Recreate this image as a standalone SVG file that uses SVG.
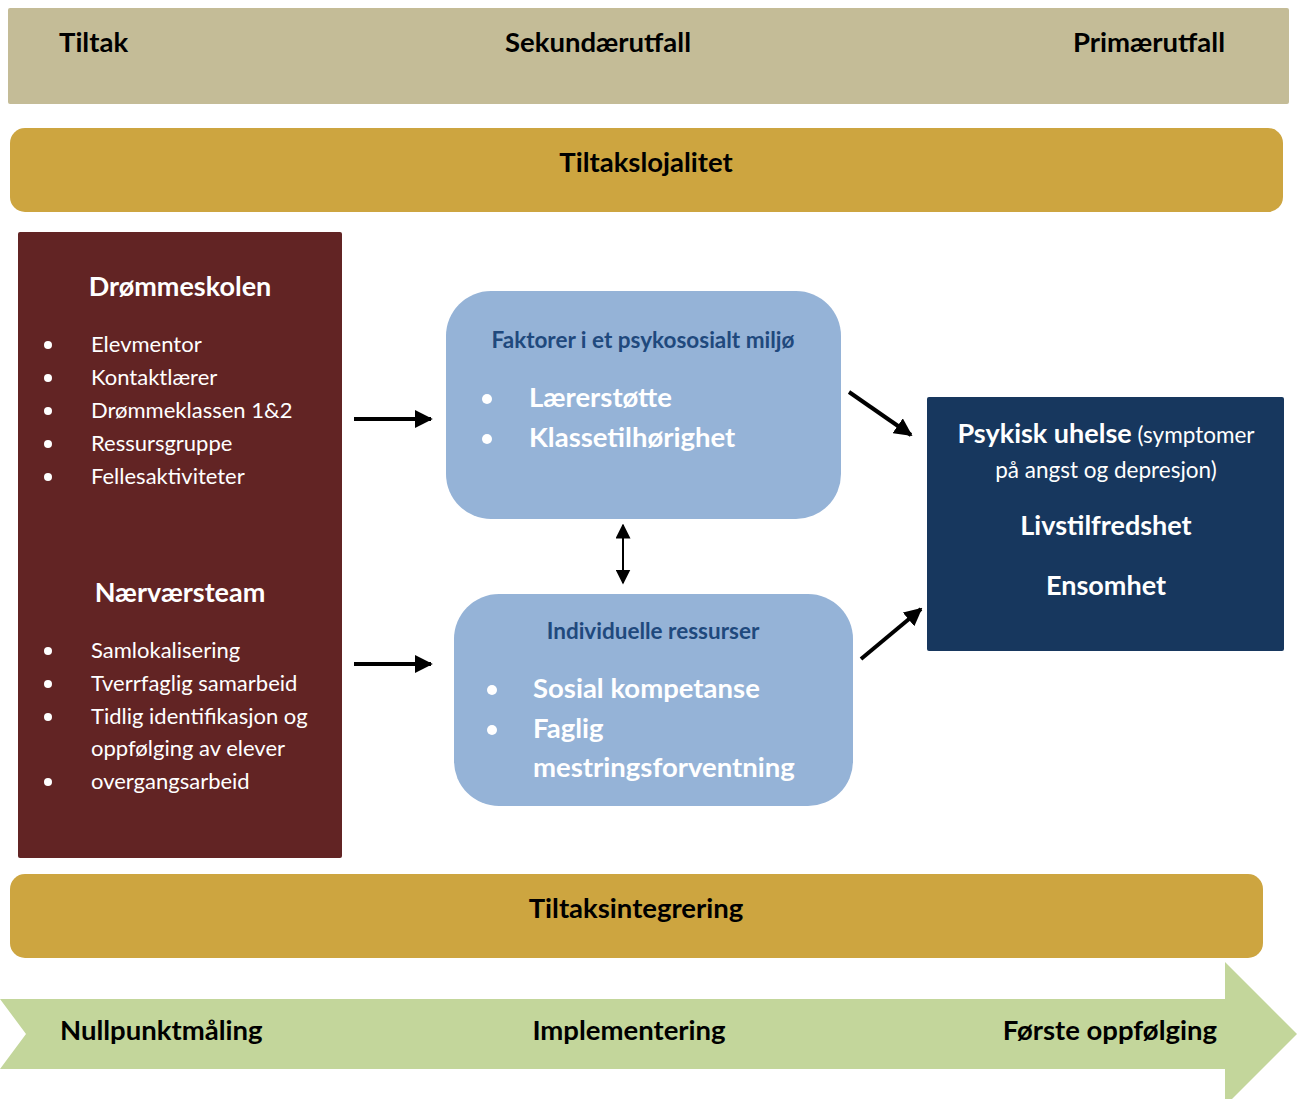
<svg xmlns="http://www.w3.org/2000/svg" width="1302" height="1099" viewBox="0 0 1302 1099">
<defs>
<marker id="ah" viewBox="0 0 10 10" refX="9" refY="5" markerWidth="4.5" markerHeight="4.5" orient="auto-start-reverse" markerUnits="strokeWidth">
<path d="M0,0 L10,5 L0,10 z" fill="#000"/>
</marker>
<marker id="ah2" viewBox="0 0 10 10" refX="9" refY="5" markerWidth="7.5" markerHeight="7.5" orient="auto-start-reverse" markerUnits="strokeWidth">
<path d="M0,0 L10,5 L0,10 z" fill="#000"/>
</marker>
<style>
text{font-family:Lato,"Open Sans","Liberation Sans",sans-serif}
.hd{font-weight:bold;font-size:27.5px;fill:#000}
.wt{font-weight:bold;font-size:27px;fill:#fff}
.li{font-size:22px;fill:#fff}
.bt{font-weight:bold;font-size:22.5px;fill:#1F497D}
.bl{font-weight:bold;font-size:27.5px;fill:#fff}
.dot{fill:#fff}
.gold{fill:#CDA540}
.conn{stroke:#000;stroke-width:4;fill:none}
</style>
</defs>

<g id="header">
<rect x="8" y="8" width="1281" height="96" rx="2" fill="#C4BC97"/>
<text class="hd" x="59" y="52">Tiltak</text>
<text class="hd" x="598" y="52" text-anchor="middle">Sekundærutfall</text>
<text class="hd" x="1225" y="52" text-anchor="end">Primærutfall</text>
</g>

<g id="tiltakslojalitet">
<rect class="gold" x="10" y="128" width="1273" height="84" rx="15"/>
<text class="hd" x="646" y="172" text-anchor="middle">Tiltakslojalitet</text>
</g>

<g id="tiltak">
<rect x="18" y="232" width="324" height="626" rx="2" fill="#622424"/>
<text class="wt" x="180" y="296" text-anchor="middle">Drømmeskolen</text>
<g class="dot">
<circle cx="48" cy="345" r="4"/><circle cx="48" cy="378" r="4"/><circle cx="48" cy="411" r="4"/><circle cx="48" cy="444" r="4"/><circle cx="48" cy="477" r="4"/>
</g>
<text class="li" x="91" y="352">Elevmentor</text>
<text class="li" x="91" y="385">Kontaktlærer</text>
<text class="li" x="91" y="418">Drømmeklassen 1&amp;2</text>
<text class="li" x="91" y="451">Ressursgruppe</text>
<text class="li" x="91" y="484">Fellesaktiviteter</text>
<text class="wt" x="180" y="602" text-anchor="middle">Nærværsteam</text>
<g class="dot">
<circle cx="48" cy="651" r="4"/><circle cx="48" cy="684" r="4"/><circle cx="48" cy="717" r="4"/><circle cx="48" cy="782" r="4"/>
</g>
<text class="li" x="91" y="658">Samlokalisering</text>
<text class="li" x="91" y="691">Tverrfaglig samarbeid</text>
<text class="li" x="91" y="724">Tidlig identifikasjon og</text>
<text class="li" x="91" y="756">oppfølging av elever</text>
<text class="li" x="91" y="789">overgangsarbeid</text>
</g>

<g id="psykososialt">
<rect x="446" y="291" width="395" height="228" rx="45" fill="#95B3D7"/>
<text class="bt" x="643" y="348" text-anchor="middle">Faktorer i et psykososialt miljø</text>
<g class="dot"><circle cx="487" cy="399" r="5"/><circle cx="487" cy="439" r="5"/></g>
<text class="bl" x="529" y="407">Lærerstøtte</text>
<text class="bl" x="529" y="447">Klassetilhørighet</text>
</g>

<g id="individuelle">
<rect x="453" y="594" width="402" height="215" rx="45" fill="#fff" opacity="0.9"/>
<rect x="454" y="594" width="399" height="212" rx="45" fill="#95B3D7"/>
<text class="bt" x="653" y="639" text-anchor="middle">Individuelle ressurser</text>
<g class="dot"><circle cx="492" cy="690" r="5"/><circle cx="492" cy="730" r="5"/></g>
<text class="bl" x="533" y="698">Sosial kompetanse</text>
<text class="bl" x="533" y="738">Faglig</text>
<text class="bl" x="533" y="777">mestringsforventning</text>
</g>

<g id="utfall">
<rect x="927" y="397" width="357" height="254" rx="2" fill="#17375E"/>
<text x="1106" y="443" text-anchor="middle" fill="#fff"><tspan font-weight="bold" font-size="27">Psykisk uhelse</tspan><tspan font-size="22.5"> (symptomer</tspan></text>
<text x="1106" y="478" text-anchor="middle" fill="#fff" font-size="22.5">på angst og depresjon)</text>
<text class="wt" x="1106" y="535" text-anchor="middle">Livstilfredshet</text>
<text class="wt" x="1106" y="595" text-anchor="middle">Ensomhet</text>
</g>

<g id="tiltaksintegrering">
<rect class="gold" x="10" y="874" width="1253" height="84" rx="15"/>
<text class="hd" x="636" y="918" text-anchor="middle">Tiltaksintegrering</text>
</g>

<g id="tidslinje">
<path d="M0,999 L1225,999 L1225,962 L1297,1034 L1225,1106 L1225,1069 L0,1069 L26,1034 Z" fill="#C3D69B"/>
<text class="hd" x="60" y="1040">Nullpunktmåling</text>
<text class="hd" x="629" y="1040" text-anchor="middle">Implementering</text>
<text class="hd" x="1217" y="1040" text-anchor="end">Første oppfølging</text>
</g>

<g id="connectors">
<line class="conn" x1="354" y1="419" x2="431" y2="419" marker-end="url(#ah)"/>
<line class="conn" x1="354" y1="664" x2="431" y2="664" marker-end="url(#ah)"/>
<line class="conn" x1="849" y1="392" x2="911" y2="435" marker-end="url(#ah)"/>
<line class="conn" x1="861" y1="659" x2="921" y2="609" marker-end="url(#ah)"/>
<line x1="623" y1="525" x2="623" y2="583" stroke="#000" stroke-width="2" marker-start="url(#ah2)" marker-end="url(#ah2)"/>
</g>
</svg>
